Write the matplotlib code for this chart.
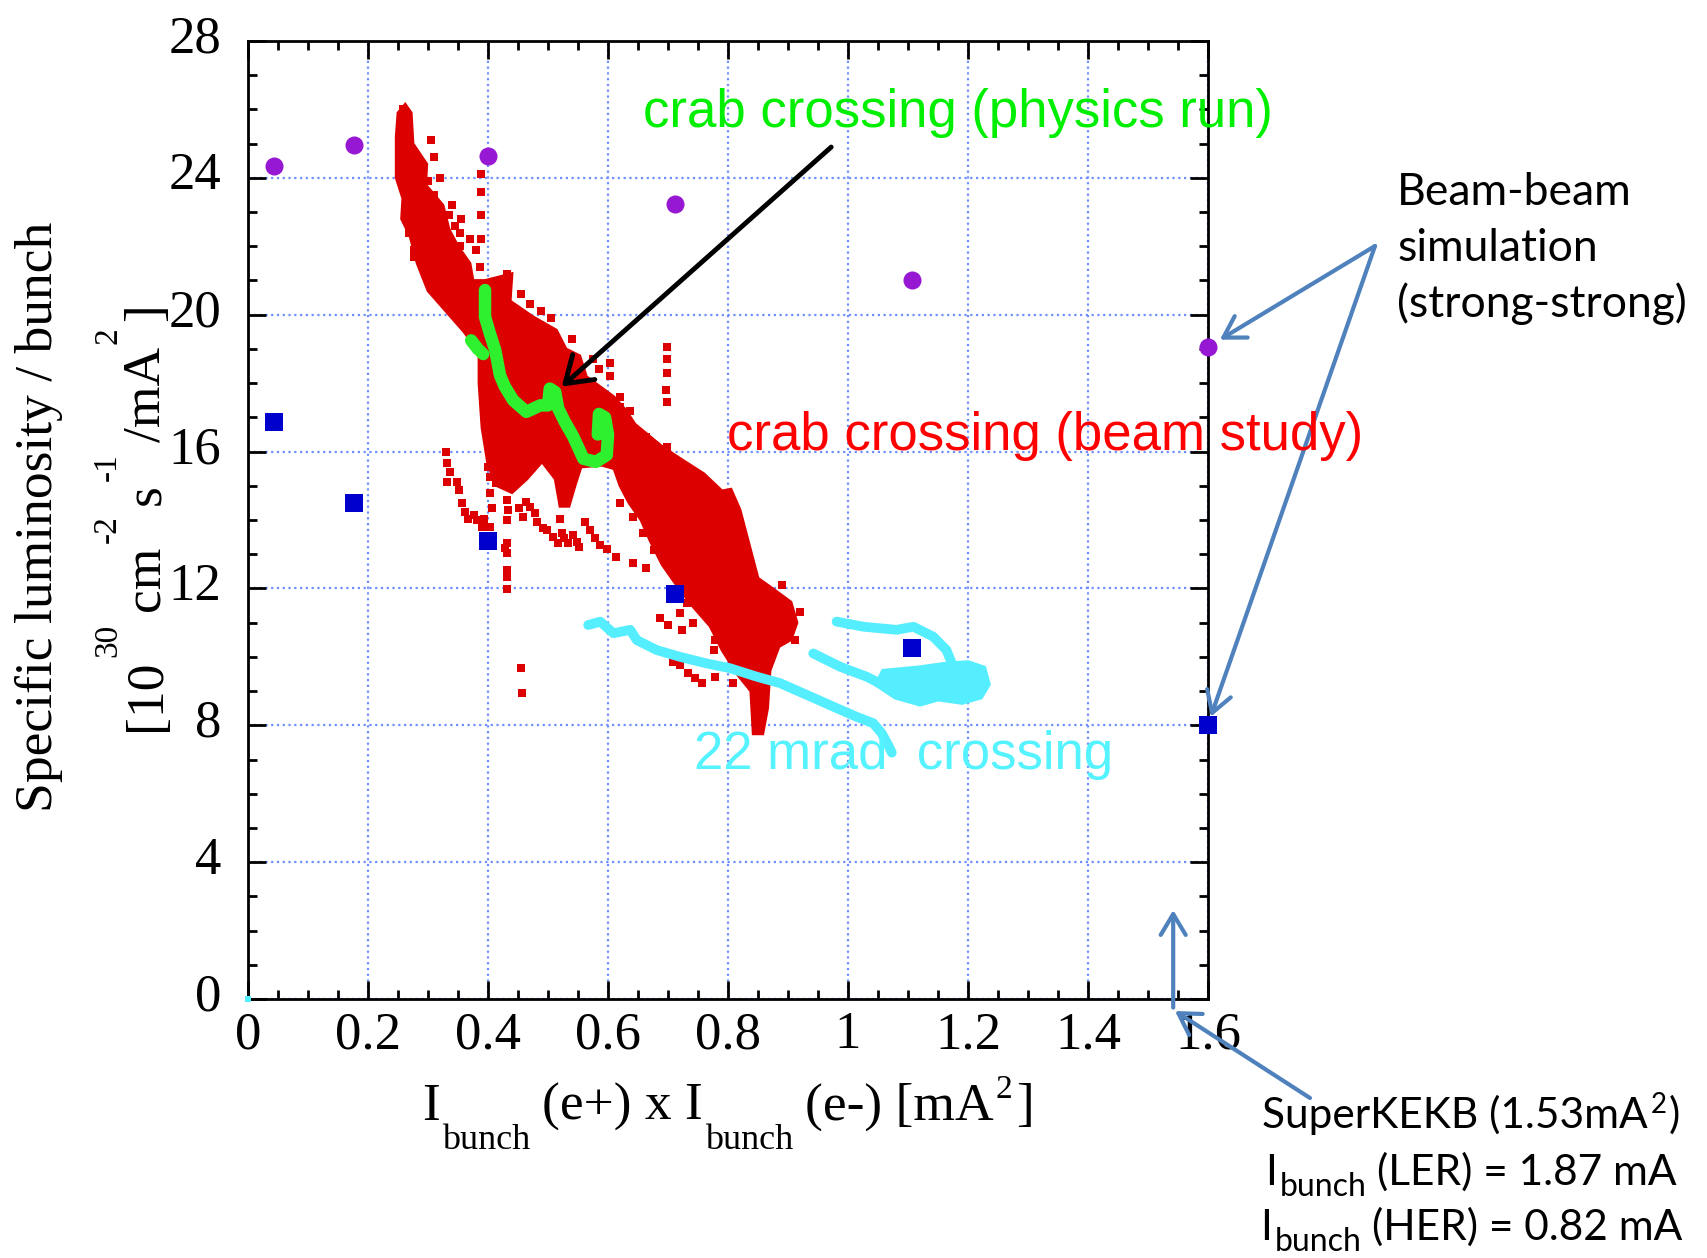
import matplotlib
matplotlib.use("Agg")
import matplotlib.pyplot as plt
from matplotlib.ticker import MultipleLocator
from matplotlib.transforms import IdentityTransform, ScaledTranslation

# --- beam-beam simulation (strong-strong) ---
sim_lum_x = [0.044, 0.176, 0.400, 0.711, 1.107, 1.600]
sim_lum_y = [24.35, 24.95, 24.65, 23.25, 21.00, 19.06]
sim_sq_x = [0.044, 0.176, 0.400, 0.711, 1.107, 1.600]
sim_sq_y = [16.85, 14.50, 13.40, 11.85, 10.25, 8.02]

# --- crab crossing (beam study): dense region outline + sparse points ---
beam_study_x = [0.250, 0.262, 0.272, 0.275, 0.298, 0.296, 0.325, 0.335, 0.350, 0.370,
                0.375, 0.395, 0.440, 0.437, 0.475, 0.514, 0.530, 0.553, 0.564, 0.610,
                0.630, 0.645, 0.690, 0.720, 0.760, 0.790, 0.805, 0.820, 0.838, 0.850,
                0.878, 0.905, 0.915, 0.905, 0.885, 0.870, 0.866, 0.858, 0.842, 0.838,
                0.815, 0.790, 0.770, 0.740, 0.710, 0.690, 0.670, 0.655, 0.635, 0.620,
                0.610, 0.590, 0.555, 0.545, 0.535, 0.520, 0.512, 0.490, 0.465, 0.440,
                0.415, 0.400, 0.390, 0.385, 0.385, 0.360, 0.340, 0.300, 0.282, 0.270,
                0.256, 0.258, 0.247, 0.247]
beam_study_y = [25.90, 26.15, 25.90, 25.00, 24.40, 23.80, 23.20, 22.50, 22.00, 21.50,
                21.00, 21.00, 21.20, 20.40, 19.94, 19.55, 19.00, 18.80, 18.19, 17.60,
                17.20, 16.80, 16.15, 15.80, 15.35, 14.85, 14.90, 14.30, 13.10, 12.30,
                11.95, 11.60, 11.00, 10.50, 10.30, 9.60, 8.50, 7.75, 7.75, 9.00,
                9.50, 10.20, 10.90, 11.50, 12.20, 12.70, 13.40, 14.00, 14.50, 15.00,
                15.50, 15.60, 15.55, 15.00, 14.40, 14.40, 15.20, 15.70, 15.20, 14.80,
                15.00, 15.60, 16.70, 18.00, 18.90, 19.50, 19.90, 20.70, 21.50, 22.30,
                22.80, 23.40, 24.00, 25.20]
beam_study_pts_x = [0.258, 0.283, 0.292, 0.300, 0.310, 0.335, 0.345, 0.353, 0.353, 0.431,
                    0.431, 0.276, 0.276, 0.268, 0.262, 0.310, 0.320, 0.340, 0.355, 0.370,
                    0.380, 0.305,
                    0.389, 0.389, 0.389, 0.389, 0.387,
                    0.330, 0.332, 0.337, 0.332, 0.348, 0.352, 0.356, 0.362, 0.367, 0.377,
                    0.381, 0.393, 0.390, 0.403,
                    0.400, 0.403, 0.414, 0.403, 0.406,
                    0.431, 0.434, 0.431, 0.431, 0.428, 0.432, 0.432, 0.432, 0.432, 0.455, 0.456,
                    0.452, 0.458, 0.464, 0.470, 0.478, 0.482, 0.492, 0.498, 0.509, 0.517,
                    0.523, 0.526, 0.534, 0.542, 0.548, 0.552, 0.520,
                    0.562, 0.570, 0.578, 0.587, 0.598, 0.614, 0.642, 0.664,
                    0.620, 0.642, 0.659, 0.676,
                    0.687, 0.700, 0.720, 0.731, 0.742, 0.723, 0.709, 0.720, 0.734, 0.745,
                    0.756, 0.778, 0.776, 0.795, 0.809, 0.778, 0.912, 0.920, 0.890,
                    0.698, 0.698, 0.698, 0.696, 0.698,
                    0.603, 0.603, 0.620, 0.620, 0.637, 0.637, 0.664, 0.642, 0.675, 0.698,
                    0.455, 0.470, 0.488, 0.505, 0.540, 0.575, 0.585]
beam_study_pts_y = [26.00, 24.40, 24.10, 23.90, 23.50, 22.90, 22.60, 22.40, 22.00, 21.20,
                    20.70, 21.70, 21.90, 22.40, 23.00, 24.60, 24.00, 23.20, 22.80, 22.20,
                    21.90, 25.10,
                    24.10, 23.60, 22.90, 22.20, 21.40,
                    16.00, 15.66, 15.41, 15.12, 15.12, 14.88, 14.49, 14.24, 14.02, 14.15,
                    14.00, 14.02, 13.79, 13.79,
                    15.56, 15.27, 15.07, 14.78, 14.34,
                    14.59, 14.29, 14.00, 13.32, 13.17, 13.03, 12.54, 12.34, 11.98, 9.67, 8.94,
                    14.34, 14.08, 14.54, 14.39, 14.20, 13.95, 13.76, 13.71, 13.50, 13.32,
                    13.61, 13.47, 13.32, 13.56, 13.37, 13.22, 14.02,
                    13.95, 13.71, 13.47, 13.27, 13.15, 12.93, 12.74, 12.59,
                    14.49, 14.10, 13.61, 13.12,
                    11.13, 10.93, 11.27, 11.57, 10.98, 10.79, 9.86, 9.76, 9.52, 9.37,
                    9.23, 10.49, 10.20, 10.35, 9.23, 9.42, 10.49, 11.30, 12.10,
                    19.05, 18.70, 18.30, 17.80, 17.45,
                    18.58, 18.20, 17.60, 17.30, 17.20, 16.40, 16.44, 16.10, 16.05, 16.14,
                    20.60, 20.30, 20.10, 19.90, 19.30, 18.70, 18.40]

# --- crab crossing (physics run) ---
physics_x = [0.395, 0.395, 0.403, 0.412, 0.420, 0.428, 0.442, 0.464, 0.487, 0.500,
             0.503, 0.512, 0.517, 0.528, 0.542, 0.559, 0.580, 0.598, 0.600, 0.595,
             0.585, 0.583]
physics_y = [20.72, 19.94, 19.46, 18.97, 18.23, 17.90, 17.50, 17.16, 17.35, 17.35,
             17.84, 17.74, 17.26, 16.87, 16.44, 15.79, 15.70, 15.90, 16.50, 17.00,
             17.10, 16.50]
physics_b_x = [0.372, 0.383, 0.392]
physics_b_y = [19.25, 19.00, 18.85]

# --- 22 mrad crossing ---
mrad_a_x = [0.567, 0.587, 0.609, 0.637, 0.648, 0.681, 0.720, 0.764, 0.803, 0.848,
            0.887, 0.931, 0.976, 1.014, 1.042, 1.056, 1.067, 1.073]
mrad_a_y = [10.93, 11.03, 10.69, 10.79, 10.49, 10.20, 10.00, 9.81, 9.67, 9.42,
            9.23, 8.89, 8.54, 8.25, 8.06, 7.77, 7.42, 7.20]
mrad_b_x = [0.981, 1.026, 1.081, 1.109, 1.142, 1.164, 1.173, 1.190]
mrad_b_y = [11.03, 10.88, 10.79, 10.88, 10.59, 10.20, 9.81, 9.50]
mrad_c_x = [0.942, 0.987, 1.031, 1.064, 1.103, 1.131]
mrad_c_y = [10.10, 9.71, 9.42, 9.13, 8.90, 8.75]
mrad_loop_x = [1.060, 1.120, 1.160, 1.200, 1.225, 1.232, 1.220, 1.190, 1.150, 1.120,
               1.080, 1.050]
mrad_loop_y = [9.55, 9.65, 9.75, 9.80, 9.65, 9.20, 8.85, 8.70, 8.80, 8.65, 8.85, 9.20]
mrad_stray_x = [0.0]
mrad_stray_y = [0.0]

xticks = [0, 0.2, 0.4, 0.6, 0.8, 1.0, 1.2, 1.4, 1.6]
xtick_labels = ["0", "0.2", "0.4", "0.6", "0.8", "1", "1.2", "1.4", "1.6"]
yticks = [0, 4, 8, 12, 16, 20, 24, 28]

RED = "#dd0000"
GREEN = "#2ef02e"
CYAN = "#55eeff"
ARROW_BLUE = "#4f81bd"
W, H = 1708, 1258

plt.rcParams["font.family"] = ["Liberation Serif", "DejaVu Serif"]

fig = plt.figure(figsize=(W / 100, H / 100), dpi=100)
ax = fig.add_axes([248 / W, 1 - 999 / H, 960 / W, 958 / H])
ax.set_xlim(0, 1.6)
ax.set_ylim(0, 28)

ax.set_xticks(xticks)
ax.set_xticklabels(xtick_labels)
ax.set_yticks(yticks)
ax.xaxis.set_minor_locator(MultipleLocator(0.05))
ax.yaxis.set_minor_locator(MultipleLocator(1))
ax.tick_params(which="both", direction="in", top=True, right=True, width=2,
               labelsize=38)
ax.tick_params(which="major", length=13)
ax.tick_params(which="minor", length=6.5)
ax.tick_params(axis="x", pad=9)
ax.tick_params(axis="y", pad=19)
for sp in ax.spines.values():
    sp.set_linewidth(2)
# gnuplot puts y labels a bit above the tick
shift = ScaledTranslation(0, 7 / 100, fig.dpi_scale_trans)
for lab in ax.get_yticklabels():
    lab.set_transform(lab.get_transform() + shift)

ax.grid(True, which="major", color="#6f8fff", linestyle=(0, (1, 1.6)), linewidth=1.6)
ax.set_axisbelow(True)

# measured data
ax.fill(beam_study_x, beam_study_y, color=RED, lw=2, zorder=2)
ax.plot(beam_study_pts_x, beam_study_pts_y, "s", ms=5.5, color=RED, mew=0, zorder=2)
ax.plot(physics_x, physics_y, color=GREEN, lw=9, solid_joinstyle="round",
        solid_capstyle="round", zorder=3)
ax.plot(physics_b_x, physics_b_y, color=GREEN, lw=9, solid_capstyle="round", zorder=3)
for xs, ys in [(mrad_a_x, mrad_a_y), (mrad_b_x, mrad_b_y), (mrad_c_x, mrad_c_y)]:
    ax.plot(xs, ys, color=CYAN, lw=7, solid_joinstyle="round",
            solid_capstyle="round", zorder=3)
ax.fill(mrad_loop_x, mrad_loop_y, color=CYAN, lw=5, zorder=3)
ax.plot(mrad_stray_x, mrad_stray_y, "s", ms=5, color=CYAN, mew=0, clip_on=False, zorder=5)

# simulation
ax.plot(sim_lum_x, sim_lum_y, "o", ms=13, color="#9618d2", mew=0, clip_on=False, zorder=5)
ax.plot(sim_sq_x, sim_sq_y, "s", ms=12.5, color="#0000cc", mew=0, clip_on=False, zorder=5)

# labels on the data
ax.annotate("", xy=(0.523, 17.9), xytext=(0.972, 24.9),
            arrowprops=dict(arrowstyle="->,head_length=0.45,head_width=0.3",
                            lw=3.5, color="k", mutation_scale=40,
                            shrinkA=0, shrinkB=0), zorder=6)
sans = ["Liberation Sans", "DejaVu Sans"]
ax.text(643, H - 127, "crab crossing (physics run)", transform=IdentityTransform(),
        fontsize=38, color="#00ee00", family=sans, zorder=7)
ax.text(727, H - 450, "crab crossing (beam study)", transform=IdentityTransform(),
        fontsize=38, color="#ff0000", family=sans, zorder=7)
ax.text(694, H - 769, "22 mrad  crossing", transform=IdentityTransform(),
        fontsize=38, color="#55f2ff", family=sans, zorder=7)

# blue pointers from the notes on the right
blue_arrow = dict(arrowstyle="->,head_length=0.5,head_width=0.3", lw=3,
                  color=ARROW_BLUE, mutation_scale=30, shrinkA=0)
ax.annotate("", xy=(1.6, 19.06), xytext=(1375, H - 246), textcoords="figure pixels",
            arrowprops=dict(blue_arrow, shrinkB=10), annotation_clip=False)
ax.annotate("", xy=(1.6, 8.02), xytext=(1375, H - 246), textcoords="figure pixels",
            arrowprops=dict(blue_arrow, shrinkB=6), annotation_clip=False)
ax.annotate("", xy=(1.542, 2.6), xytext=(1.542, -0.25),
            arrowprops=dict(blue_arrow, shrinkB=0), annotation_clip=False)
ax.annotate("", xy=(1175, H - 1011), xycoords="figure pixels",
            xytext=(1310, H - 1098), textcoords="figure pixels",
            arrowprops=dict(blue_arrow, shrinkB=0), annotation_clip=False)


def rich_text(x0, y0, pieces, rotation=0, family=None, color="k"):
    """Draw text pieces (text, size, rise_px, gap_px) centred on x0 (or y0 if rotated)."""
    r = fig.canvas.get_renderer()
    widths = []
    for s, size, rise, gap in pieces:
        t = fig.text(0, 0, s, fontsize=size, family=family)
        widths.append(t.get_window_extent(r).width)
        t.remove()
    total = sum(widths) + sum(p[3] for p in pieces)
    pos = -total / 2
    for (s, size, rise, gap), w in zip(pieces, widths):
        pos += gap
        if rotation == 90:
            x, y = x0 - rise, y0 + pos
        else:
            x, y = x0 + pos, y0 + rise
        fig.text(x, y, s, fontsize=size, family=family, color=color,
                 rotation=rotation, rotation_mode="anchor", ha="left",
                 va="baseline", transform=IdentityTransform())
        pos += w


# axis titles, gnuplot-style sub/superscripts
rich_text(728, H - 1120, [("I", 38.5, 0, 0), ("bunch", 26, -29, 2),
                          ("(e+) x I", 38.5, 0, 12), ("bunch", 26, -29, 2),
                          ("(e-) [mA", 38.5, 0, 12), ("2", 24, 22, 2), ("]", 38.5, 0, 4)])
fig.text(52, H - 517, "Specific luminosity / bunch", fontsize=38.5, rotation=90,
         rotation_mode="anchor", ha="center", va="baseline", transform=IdentityTransform())
rich_text(160, H - 517, [("[10", 38.5, 0, 0), ("30", 24, 44, 3), ("cm", 38.5, 0, 12),
                         ("-2", 24, 44, 3), ("s", 38.5, 0, 10), ("-1", 24, 44, 3),
                         ("/mA", 38.5, 0, 12), ("2", 24, 44, 3), ("]", 38.5, 0, 6)],
          rotation=90)

# notes on the right
note_font = ["Lato", "DejaVu Sans"]
for i, line in enumerate(["Beam-beam", "simulation", "(strong-strong)"]):
    fig.text(1397, H - 205 - 56 * i, line, fontsize=32, family=note_font,
             transform=IdentityTransform())
rich_text(1471, H - 1128, [("SuperKEKB (1.53mA", 30.5, 0, 0), ("2", 20, 15, 2),
                           (")", 30.5, 0, 2)], family=note_font)
rich_text(1471, H - 1185, [("I", 30.5, 0, 0), ("bunch", 23, -11, 3),
                           ("(LER) = 1.87 mA", 30.5, 0, 10)], family=note_font)
rich_text(1471, H - 1240, [("I", 30.5, 0, 0), ("bunch", 23, -11, 3),
                           ("(HER) = 0.82 mA", 30.5, 0, 10)], family=note_font)

fig.savefig("out.png", dpi=100)
